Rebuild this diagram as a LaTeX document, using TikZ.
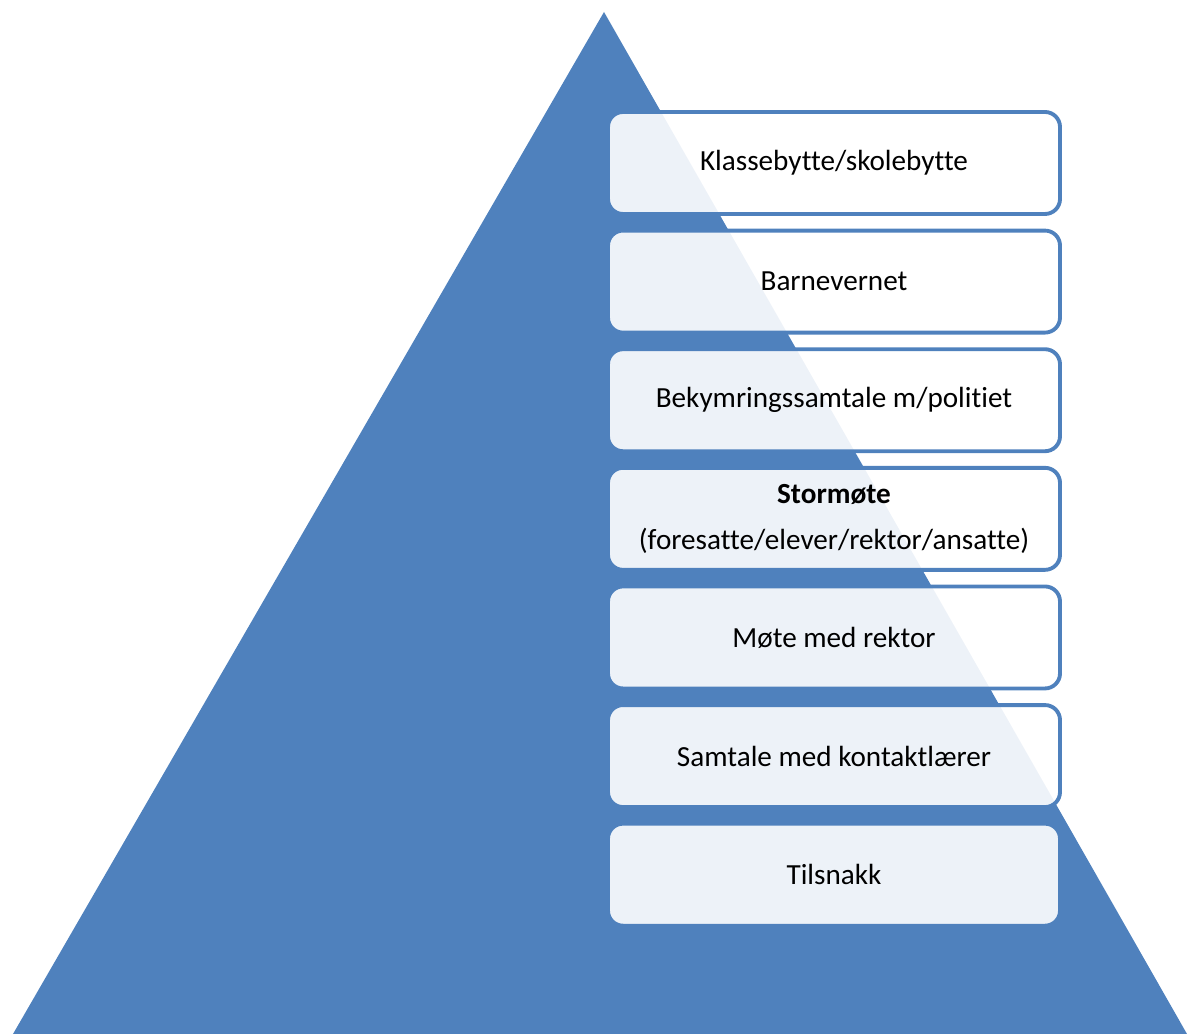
\documentclass[tikz,border=0pt]{standalone}
\usepackage{fontspec}
\setmainfont{Carlito}[Ligatures=NoCommon]
\usetikzlibrary{positioning}
\definecolor{pyrblue}{HTML}{4F81BD}
\tikzset{level box/.style={rectangle,rounded corners=0.3cm,draw=pyrblue,line width=2.2pt,
            fill=white,fill opacity=0.9,text opacity=1,minimum width=9.04cm,minimum height=2.04cm,
            inner sep=0pt,align=center,font=\fontsize{16.6}{26}\selectfont},
            }

\begin{document}
\begin{tikzpicture}
    \useasboundingbox (0,0) rectangle (23.74,20.68);

    % pyramid
    \coordinate (top) at (12.08,20.44);
    \coordinate (bl) at (0.26,0);
    \coordinate (br) at (23.74,0);
    \fill[pyrblue] (top) -- (bl) -- (br) -- cycle;

    \node[level box] (1) at (16.68,17.42) {Klassebytte/skolebytte};
    \node[level box] (2) [below = 0.255cm of 1] {Barnevernet};
    \node[level box] (3) [below = 0.255cm of 2] {Bekymringssamtale m/politiet};
    \node[level box] (4) [below = 0.255cm of 3] {\textbf{Stormøte}\\(foresatte/elever/rektor/ansatte)};
    \node[level box] (5) [below = 0.255cm of 4] {Møte med rektor};
    \node[level box] (6) [below = 0.255cm of 5] {Samtale med kontaktlærer};
    \node[level box] (7) [below = 0.255cm of 6] {Tilsnakk};

\end{tikzpicture}
\end{document}
